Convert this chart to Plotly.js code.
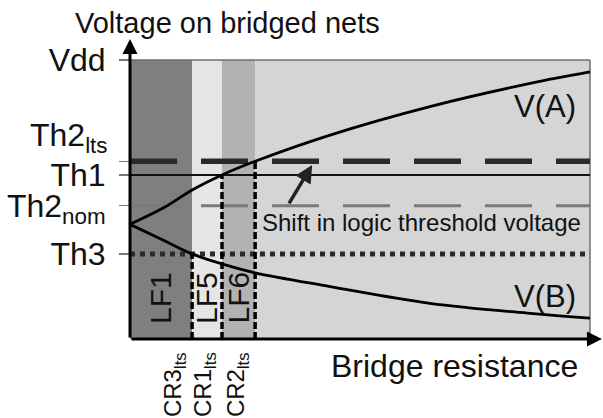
<!DOCTYPE html>
<html>
<head>
<meta charset="utf-8">
<script src="https://cdn.plot.ly/plotly-3.0.1.min.js"></script>
<style>
  html, body { margin: 0; padding: 0; background: #fff; }
  #chart { width: 603px; height: 418px; }
</style>
</head>
<body>
<div id="chart"></div>
<script>
// bridge resistance (arbitrary units) and node voltages (fraction of Vdd)
const resistance = [0, 7.5, 13.5, 20, 27.2, 43.5, 65.2, 87, 100];
const voltageA = [0.411, 0.472, 0.534, 0.588, 0.637, 0.731, 0.833, 0.916, 0.957];
const voltageB = [0.411, 0.352, 0.305, 0.269, 0.237, 0.188, 0.128, 0.092, 0.075];

// threshold levels
const vdd = 1.0;
const th2lts = 0.637;
const th1 = 0.588;
const th2nom = 0.478;
const th3 = 0.305;

const yTickVals = [vdd, th2lts, th1, th2nom, th3];
const yTickText = ['Vdd', 'Th2<sub>lts</sub>', 'Th1', 'Th2<sub>nom</sub>', 'Th3'];

// critical resistances and the threshold each one meets
const crValues = [13.5, 20, 27.2];
const crLevels = [th3, th1, th2lts];
const crLabels = ['CR3<sub>lts</sub>', 'CR1<sub>lts</sub>', 'CR2<sub>lts</sub>'];

// logic fault regions
const regionEdges = [0, 13.5, 20, 27.2, 100];
const regionColors = ['#7f7f7f', '#e5e5e5', '#b2b2b2', '#d5d5d5'];
const regionNames = ['LF1', 'LF5', 'LF6'];

const FONT = 'Liberation Sans, Arial, sans-serif';
const xEnd = 100;

const traces = [];

function hline(level, color, width, dash) {
    traces.push({
        x: [0, xEnd], y: [level, level],
        mode: 'lines', type: 'scatter', hoverinfo: 'skip',
        line: { color: color, width: width, dash: dash }
    });
}
hline(th2nom, '#7a7a7a', 3, '47px,24px');
hline(th1, '#111', 2, 'solid');
hline(th3, '#2a2a2a', 5, 'dot');
hline(th2lts, '#2a2a2a', 5.5, '47px,24px');

crValues.forEach(function (cr, i) {
    traces.push({
        x: [cr, cr], y: [0, crLevels[i]],
        mode: 'lines', type: 'scatter', hoverinfo: 'skip',
        line: { color: '#000', width: 3.5, dash: '7px,3px' }
    });
});

traces.push({
    x: resistance, y: voltageA, mode: 'lines', type: 'scatter',
    line: { color: '#000', width: 2.8, shape: 'spline' }
});
traces.push({
    x: resistance, y: voltageB, mode: 'lines', type: 'scatter',
    line: { color: '#000', width: 2.8, shape: 'spline' }
});

const shapes = [];
for (let i = 0; i < regionColors.length; i++) {
    shapes.push({
        type: 'rect', xref: 'x', yref: 'y', layer: 'below',
        x0: regionEdges[i], x1: regionEdges[i + 1], y0: 0, y1: vdd,
        fillcolor: regionColors[i], line: { width: 0 }
    });
}
// frame on top and right
shapes.push({ type: 'line', xref: 'x', yref: 'y', layer: 'below',
    x0: 0, x1: xEnd, y0: vdd, y1: vdd, line: { color: '#6e6e6e', width: 1.5 } });
shapes.push({ type: 'line', xref: 'x', yref: 'y', layer: 'below',
    x0: xEnd, x1: xEnd, y0: 0, y1: vdd, line: { color: '#6e6e6e', width: 1.5 } });

const annotations = [];

// axis arrows
annotations.push({ x: 0, y: 1.075, ax: 0, ay: 0, axref: 'x', ayref: 'y', xref: 'x', yref: 'y',
    text: '', showarrow: true, arrowhead: 2, arrowsize: 1, arrowwidth: 3, arrowcolor: '#000' });
annotations.push({ x: 102.6, y: 0, ax: 0, ay: 0, axref: 'x', ayref: 'y', xref: 'x', yref: 'y',
    text: '', showarrow: true, arrowhead: 2, arrowsize: 1, arrowwidth: 3, arrowcolor: '#000' });

// the Th2lts label sits above its tick in the original, so it is placed by hand
const liftedTick = 1;
annotations.push({
    x: 0, y: yTickVals[liftedTick], xref: 'paper', yref: 'y', xanchor: 'right', yanchor: 'middle',
    xshift: -20, yshift: 24, text: yTickText[liftedTick], showarrow: false,
    font: { family: FONT, size: 32, color: '#111' }
});

regionNames.forEach(function (name, i) {
    annotations.push({
        x: (regionEdges[i] + regionEdges[i + 1]) / 2, y: 0.147, xref: 'x', yref: 'y',
        text: name, showarrow: false, textangle: -90,
        font: { family: FONT, size: 30, color: '#111' }
    });
});

crValues.forEach(function (cr, i) {
    annotations.push({
        x: cr, y: 0, xref: 'x', yref: 'y', xanchor: 'right', yanchor: 'top', yshift: -11,
        text: crLabels[i], showarrow: false, textangle: -90,
        font: { family: FONT, size: 24, color: '#111' }
    });
});

annotations.push({ x: 90.2, y: 0.835, xref: 'x', yref: 'y', text: 'V(A)', showarrow: false,
    font: { family: FONT, size: 31, color: '#111' } });
annotations.push({ x: 90.2, y: 0.154, xref: 'x', yref: 'y', text: 'V(B)', showarrow: false,
    font: { family: FONT, size: 31, color: '#111' } });

annotations.push({ x: 63.3, y: 0.419, xref: 'x', yref: 'y', text: 'Shift in logic threshold voltage',
    showarrow: false, font: { family: FONT, size: 24, color: '#111' } });
annotations.push({ x: 39.6, y: 0.624, xref: 'x', yref: 'y', ax: -24, ay: 40, text: '',
    showarrow: true, arrowhead: 2, arrowsize: 1, arrowwidth: 3.5, arrowcolor: '#222' });

annotations.push({ x: 0.685, y: -0.087, xref: 'paper', yref: 'paper', xanchor: 'center', yanchor: 'middle',
    text: 'Bridge resistance', showarrow: false, font: { family: FONT, size: 32, color: '#111' } });

const layout = {
    width: 603, height: 418,
    margin: { l: 130, r: 0, t: 30, b: 79 },
    paper_bgcolor: '#fff', plot_bgcolor: 'rgba(0,0,0,0)',
    showlegend: false,
    title: {
        text: 'Voltage on bridged nets', xref: 'container', yref: 'container',
        x: 75 / 603, xanchor: 'left', y: 0.945, yanchor: 'middle',
        font: { family: FONT, size: 29, color: '#111' }
    },
    xaxis: {
        range: [0, 102.83], showgrid: false, zeroline: false, showline: false,
        showticklabels: false, ticks: '', fixedrange: true
    },
    yaxis: {
        range: [0, 1.1075], showgrid: false, zeroline: false, showline: false,
        tickvals: yTickVals,
        ticktext: yTickText.map(function (t, i) { return i === liftedTick ? '' : t; }),
        ticks: 'outside', ticklen: 10, tickwidth: 1.5, tickcolor: '#777',
        ticklabelstandoff: 7,
        tickfont: { family: FONT, size: 32, color: '#111' }, fixedrange: true
    },
    shapes: shapes,
    annotations: annotations
};

Plotly.newPlot('chart', traces, layout, { displayModeBar: false, staticPlot: true });
</script>
</body>
</html>
